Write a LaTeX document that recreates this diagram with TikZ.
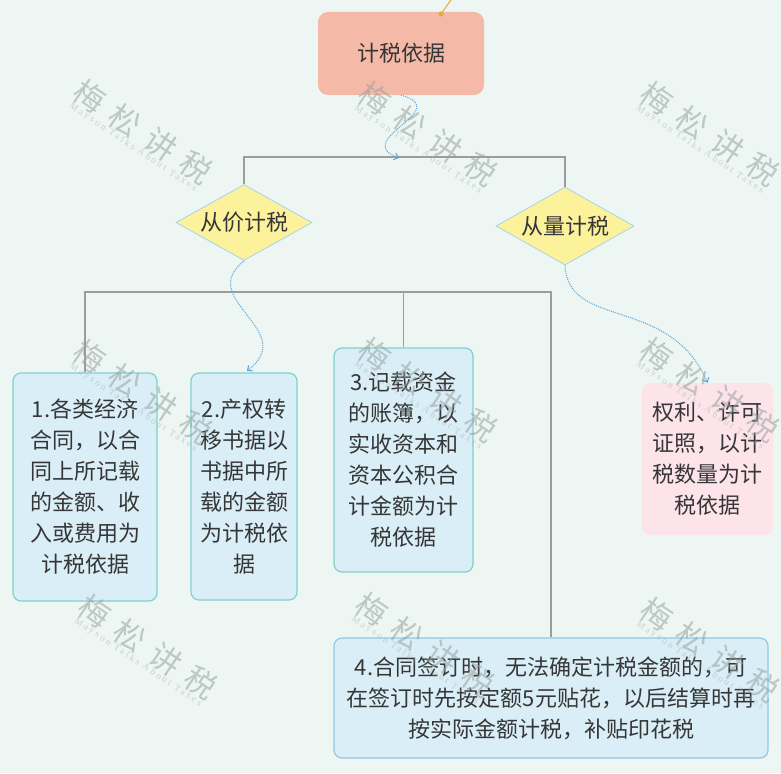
\documentclass[tikz,border=0pt]{standalone}
\usepackage{fontspec}
\setmainfont{Noto Sans CJK SC}
\newfontfamily\wmfont[LetterSpace=38]{Noto Sans CJK SC}
\newfontfamily\wmsmall[LetterSpace=25]{Liberation Serif}
\usetikzlibrary{shapes.geometric,arrows.meta}
\definecolor{bgc}{HTML}{EDF6F3}
\definecolor{topfill}{HTML}{F4B9A7}
\definecolor{dfill}{HTML}{FCF29C}
\definecolor{dline}{HTML}{A9D3E6}
\definecolor{bfill}{HTML}{D9EEF7}
\definecolor{bline}{HTML}{82D0CE}
\definecolor{b4line}{HTML}{8FC9E6}
\definecolor{pfill}{HTML}{FCE4EA}
\definecolor{txt}{HTML}{363636}
\definecolor{treec}{HTML}{9C9C9C}
\definecolor{dotc}{HTML}{5AA5DA}
\definecolor{orangec}{HTML}{EBA93C}
\definecolor{wmc}{HTML}{97A19F}
\definecolor{wmc2}{HTML}{A3ACAA}
\tikzset{
  txtfont/.style={font=\fontsize{22}{31}\selectfont, text=txt},
  topbox/.style={txtfont, fill=topfill, draw=none, rounded corners=10pt, minimum width=166pt, minimum height=83pt, inner sep=0pt},
  dia/.style={txtfont, diamond, aspect=1.8, fill=dfill, draw=dline, line width=0.8pt, inner sep=0pt},
  bluebox/.style={txtfont, fill=bfill, draw=bline, line width=1.2pt, rounded corners=8pt, align=center, inner sep=0pt},
  pinkbox/.style={txtfont, fill=pfill, draw=none, rounded corners=8pt, align=center, inner sep=0pt},
  tree/.style={draw=treec, line width=1.6pt},
  dotcurve/.style={draw=dotc, line width=1pt, densely dotted, -{Straight Barb[length=4pt,width=7pt,line width=1pt]}},
  wmbig/.style={rotate=-34, text=wmc, text opacity=0.55, font=\wmfont\fontsize{31}{31}\selectfont, inner sep=0pt},
  wmsm/.style={rotate=-34, text=wmc2, text opacity=0.5, font=\wmsmall\fontsize{9.5}{9.5}\selectfont, inner sep=0pt}
}
\begin{document}
\begin{tikzpicture}[x=1pt,y=-1pt]
\fill[bgc] (0,0) rectangle (781,773);
\useasboundingbox (0,0) rectangle (781,773);

% nodes
\node[topbox] (top) at (401,53.5) {计税依据};
\node[dia, minimum width=136pt, minimum height=76pt] (d1) at (244,222.5) {从价计税};
\node[dia, minimum width=138pt, minimum height=78pt] (d2) at (565,226) {从量计税};

\node[bluebox, minimum width=144pt, minimum height=228pt] (b1) at (85,487) {1.各类经济\\合同，以合\\同上所记载\\的金额、收\\入或费用为\\计税依据};
\node[bluebox, minimum width=106pt, minimum height=227pt] (b2) at (244,486.5) {2.产权转\\移书据以\\书据中所\\载的金额\\为计税依\\据};
\node[bluebox, minimum width=139pt, minimum height=224pt] (b3) at (403.5,460) {3.记载资金\\的账簿，以\\实收资本和\\资本公积合\\计金额为计\\税依据};
\node[bluebox, draw=b4line, minimum width=434pt, minimum height=120pt] (b4) at (551,698) {4.合同签订时，无法确定计税金额的，可\\在签订时先按定额5元贴花，以后结算时再\\按实际金额计税，补贴印花税};
\node[pinkbox, minimum width=131pt, minimum height=152pt] (pk) at (707.5,459) {权利、许可\\证照，以计\\税数量为计\\税依据};

% tree lines
\coordinate (h1) at (0,157);
\coordinate (h2) at (0,292);
\draw[tree] (d1.north) -- (d1.north |- h1) -- (d2.north |- h1) -- (d2.north);
\draw[tree] (b1.north) -- (b1.north |- h2) -- (b4.north |- h2) -- (b4.north);
\draw[tree] (b3.north) -- (b3.north |- h2);

% dotted curves
\coordinate (e1) at (399,158);
\coordinate (e2) at (247,371);
\draw[dotcurve] (top.south) .. controls (455,110) and (350,140) .. (e1);
\draw[dotcurve] (d1.south) .. controls (195,300) and (300,330) .. (e2);
\draw[dotcurve] (d2.south) .. controls (568,330) and (670,295) .. (pk.north);

% orange stub
\coordinate (o1) at (441,14);
\coordinate (o2) at (453,-3);
\draw[orangec, line width=1pt] (o1) -- (o2);
\fill[orangec] (o1) circle (2.6);

% watermarks (drawn on top, as in the reference)
\foreach \wx/\wy [count=\i] in {143/132, 428/134, 710/134, 143/392, 428/390, 710/390, 148/647, 425/645, 710/650}{
  \node[wmbig] (wm\i) at (\wx,\wy) {梅松讲税};
  \node[wmsm] (wms\i) at ([shift={(-10,15.5)}]\wx,\wy) {Mayson Talks About Taxes};
}
\end{tikzpicture}
\end{document}
